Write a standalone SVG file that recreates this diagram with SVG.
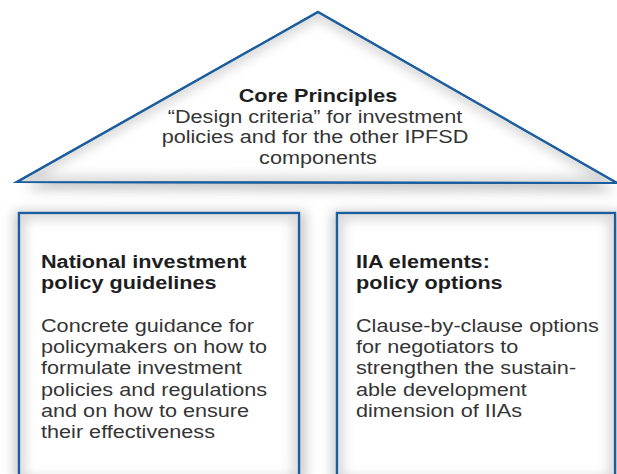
<svg xmlns="http://www.w3.org/2000/svg" width="617" height="474" viewBox="0 0 617 474">
  <defs>
    <filter id="soft" x="-10%" y="-20%" width="120%" height="140%">
      <feGaussianBlur stdDeviation="6"/>
    </filter>
    <filter id="inset" x="-5%" y="-5%" width="110%" height="110%">
      <feGaussianBlur stdDeviation="6"/>
    </filter>
    <clipPath id="clipTri"><polygon points="318,12 17,182 617,183"/></clipPath>
    <clipPath id="clipL"><rect x="19" y="213" width="280" height="270"/></clipPath>
    <clipPath id="clipR"><rect x="337" y="213" width="278" height="270"/></clipPath>
  </defs>
  <style>
    .frame { fill: #ffffff; stroke: #1a5e9f; stroke-width: 2.2; }
    .edge { fill: none; stroke: #1a5e9f; stroke-width: 2.2; }
    .shadow { fill: #a8a8a8; opacity: 0.6; }
    .glow { fill: none; stroke: #d4d4d4; stroke-width: 12; }
    .title { font-family: "Liberation Sans", Arial, sans-serif; font-size: 18.5px; font-weight: bold; fill: #1e1e1e; }
    .body { font-family: "Liberation Sans", Arial, sans-serif; font-size: 18.5px; fill: #353535; }
  </style>
  <rect width="617" height="474" fill="#ffffff"/>

  <!-- roof: core principles -->
  <g id="core-principles">
    <polygon class="shadow" points="318,20 24,190 617,192" filter="url(#soft)"/>
    <polygon class="frame" points="318,12 17,182 617,183"/>
    <polygon class="glow" points="318,12 17,182 617,183" clip-path="url(#clipTri)" filter="url(#inset)"/>
    <polygon class="edge" points="318,12 17,182 617,183"/>
    <g transform="translate(318 0) scale(1.17 1)">
      <text class="title" x="0" y="102" text-anchor="middle">Core Principles</text>
      <text class="body" text-anchor="middle">
        <tspan x="0" y="123">“Design criteria” for investment</tspan>
        <tspan x="0" y="143.5">policies and for the other IPFSD</tspan>
        <tspan x="0" y="164">components</tspan>
      </text>
    </g>
  </g>

  <!-- left pillar -->
  <g id="national-guidelines">
    <rect class="shadow" x="14" y="211" width="292" height="272" filter="url(#soft)"/>
    <rect class="frame" x="19" y="213" width="280" height="270"/>
    <rect class="glow" x="19" y="213" width="280" height="270" clip-path="url(#clipL)" filter="url(#inset)"/>
    <rect class="edge" x="19" y="213" width="280" height="270"/>
    <g transform="translate(41 0) scale(1.17 1)">
      <text class="title">
        <tspan x="0" y="268.5">National investment</tspan>
        <tspan x="0" y="289">policy guidelines</tspan>
      </text>
      <text class="body">
        <tspan x="0" y="332">Concrete guidance for</tspan>
        <tspan x="0" y="353.2">policymakers on how to</tspan>
        <tspan x="0" y="374.4">formulate investment</tspan>
        <tspan x="0" y="395.6">policies and regulations</tspan>
        <tspan x="0" y="416.8">and on how to ensure</tspan>
        <tspan x="0" y="438">their effectiveness</tspan>
      </text>
    </g>
  </g>

  <!-- right pillar -->
  <g id="iia-elements">
    <rect class="shadow" x="332" y="211" width="290" height="272" filter="url(#soft)"/>
    <rect class="frame" x="337" y="213" width="278" height="270"/>
    <rect class="glow" x="337" y="213" width="278" height="270" clip-path="url(#clipR)" filter="url(#inset)"/>
    <rect class="edge" x="337" y="213" width="278" height="270"/>
    <g transform="translate(356 0) scale(1.17 1)">
      <text class="title">
        <tspan x="0" y="268.5">IIA elements:</tspan>
        <tspan x="0" y="289">policy options</tspan>
      </text>
      <text class="body">
        <tspan x="0" y="332">Clause-by-clause options</tspan>
        <tspan x="0" y="353.2">for negotiators to</tspan>
        <tspan x="0" y="374.4">strengthen the sustain-</tspan>
        <tspan x="0" y="395.6">able development</tspan>
        <tspan x="0" y="416.8">dimension of IIAs</tspan>
      </text>
    </g>
  </g>
</svg>
